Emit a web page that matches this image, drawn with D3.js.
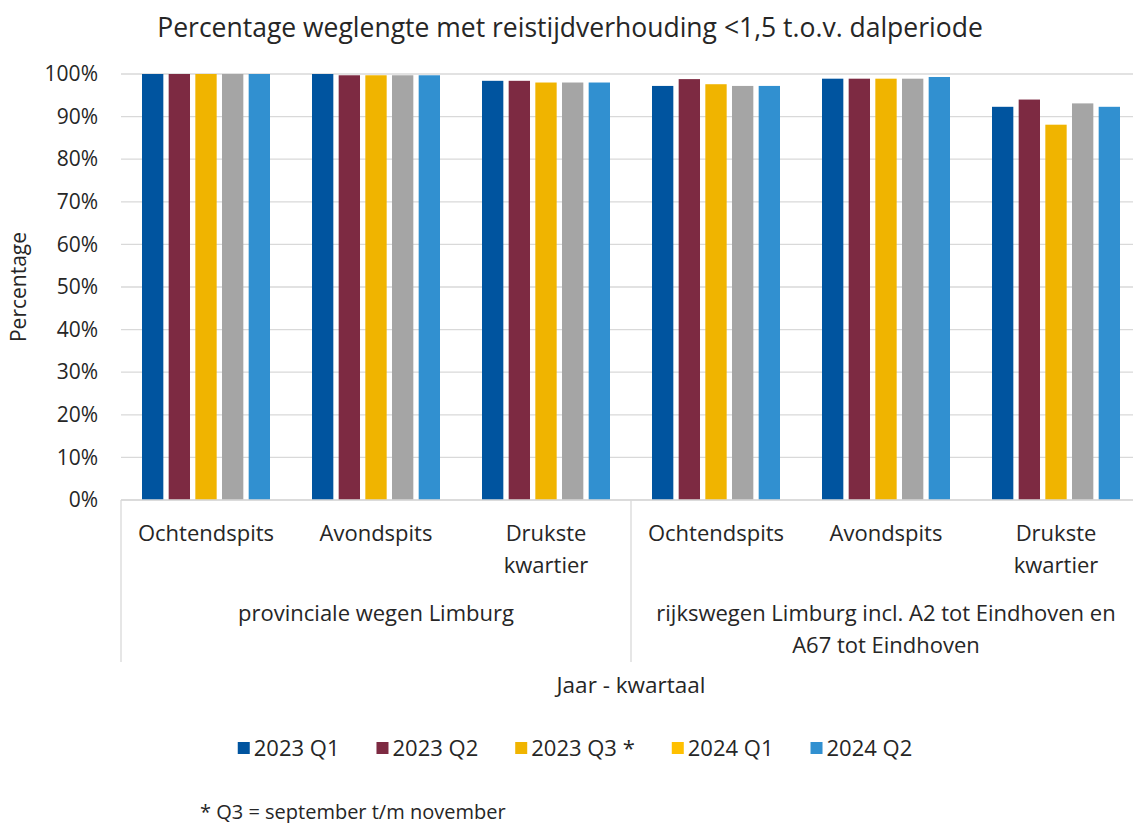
<!DOCTYPE html>
<html>
<head>
<meta charset="utf-8">
<script src="https://cdn.jsdelivr.net/npm/d3@7"></script>
<style>
  html, body { margin: 0; padding: 0; background: #fff; overflow: hidden; }
  svg { display: block; }
  text { font-family: "Open Sans", sans-serif; fill: #262626; }
</style>
</head>
<body>
<svg id="chart"></svg>
<script>
const width = 1133, height = 823

// data
const groups = ['provinciale wegen Limburg', 'rijkswegen Limburg incl. A2 tot Eindhoven en|A67 tot Eindhoven']
const categories = ['Ochtendspits', 'Avondspits', 'Drukste|kwartier']
const seriesNames = ['2023 Q1', '2023 Q2', '2023 Q3 *', '2024 Q1', '2024 Q2']
const barColors = ['#00549f', '#7d2a42', '#f0b400', '#a5a5a5', '#3190d0']
const legendColors = ['#00549f', '#7d2a42', '#f0b400', '#ffc000', '#3190d0']
// values per series, in order: prov (O, A, D), rijks (O, A, D)
const q1_2023 = [100, 100, 98.4, 97.2, 98.9, 92.3]
const q2_2023 = [100, 99.7, 98.4, 98.8, 98.9, 94.0]
const q3_2023 = [100, 99.7, 98.0, 97.6, 98.9, 88.1]
const q1_2024 = [100, 99.7, 98.0, 97.2, 98.9, 93.1]
const q2_2024 = [100, 99.7, 98.0, 97.2, 99.3, 92.3]
const seriesValues = [q1_2023, q2_2023, q3_2023, q1_2024, q2_2024]
const yTicks = [0, 10, 20, 30, 40, 50, 60, 70, 80, 90, 100]

const svg = d3.select('#chart').attr('width', width).attr('height', height)

const margin = { top: 74, left: 121, bottom: 323 }
const innerWidth = 1020, innerHeight = height - margin.top - margin.bottom

const slots = []
groups.forEach((g, gi) => categories.forEach((c, ci) => slots.push(gi + '-' + ci)))

// scales in page coordinates
const xScale = d3.scaleBand().domain(slots).range([margin.left, margin.left + innerWidth])
const xInner = d3.scaleBand().domain(seriesNames)
  .range([21, xScale.bandwidth() - 21]).paddingInner(0.2)
const yScale = d3.scaleLinear().domain([0, 100]).range([margin.top + innerHeight, margin.top])
const y0 = yScale(0)

// gridlines
svg.append('g').selectAll('line').data(yTicks).enter().append('line')
  .attr('x1', margin.left).attr('x2', margin.left + innerWidth)
  .attr('y1', d => yScale(d)).attr('y2', d => yScale(d))
  .attr('stroke', '#d9d9d9').attr('stroke-width', 1.3)

// y axis labels
const yAxis = svg.append('g').attr('transform', `translate(${margin.left},0)`)
  .call(d3.axisLeft(yScale).tickValues(yTicks).tickFormat(d => d + '%').tickSize(0).tickPadding(23))
yAxis.select('.domain').remove()
yAxis.selectAll('text').style('font-size', '21px').style('font-family', '"Open Sans", sans-serif').attr('fill', '#262626')

// bars
seriesNames.forEach((s, si) => {
  svg.append('g').selectAll('rect').data(seriesValues[si]).enter().append('rect')
    .attr('x', (d, i) => xScale(slots[i]) + xInner(s))
    .attr('y', d => yScale(d))
    .attr('width', xInner.bandwidth())
    .attr('height', d => y0 - yScale(d))
    .attr('fill', barColors[si])
})

// x axis line and group separators
svg.append('line').attr('x1', margin.left).attr('x2', margin.left + innerWidth)
  .attr('y1', y0).attr('y2', y0).attr('stroke', '#d9d9d9').attr('stroke-width', 1.3)
;[0, 3].forEach(i => {
  svg.append('line').attr('x1', xScale(slots[i])).attr('x2', xScale(slots[i]))
    .attr('y1', y0).attr('y2', y0 + 162).attr('stroke', '#d9d9d9').attr('stroke-width', 1.3)
})

// category labels
slots.forEach((sl, i) => {
  const cx = xScale(sl) + xScale.bandwidth() / 2
  categories[i % 3].split('|').forEach((l, li) => {
    svg.append('text').attr('text-anchor', 'middle').style('font-size', '22px')
      .attr('x', cx).attr('y', y0 + 41 + li * 32).text(l)
  })
})

// group labels
groups.forEach((gr, gi) => {
  const cx = xScale(slots[gi * 3]) + xScale.bandwidth() * 1.5
  gr.split('|').forEach((l, li) => {
    svg.append('text').attr('text-anchor', 'middle').style('font-size', '22px')
      .attr('x', cx).attr('y', y0 + 121 + li * 32).text(l)
  })
})

// titles
svg.append('text').attr('x', 570).attr('y', 37).attr('text-anchor', 'middle')
  .style('font-size', '26.5px').text('Percentage weglengte met reistijdverhouding <1,5 t.o.v. dalperiode')
svg.append('text').attr('transform', 'translate(26,287) rotate(-90)').attr('text-anchor', 'middle')
  .style('font-size', '21px').text('Percentage')
svg.append('text').attr('x', margin.left + innerWidth / 2).attr('y', 693).attr('text-anchor', 'middle')
  .style('font-size', '22.5px').text('Jaar - kwartaal')

// legend
const legendTexts = seriesNames.map(s => svg.append('text').attr('y', 756).style('font-size', '22px').text(s))
const widths = legendTexts.map(t => t.node().getComputedTextLength())
const total = d3.sum(widths) + seriesNames.length * 16 + (seriesNames.length - 1) * 37
let lx = 575 - total / 2
seriesNames.forEach((s, si) => {
  svg.append('rect').attr('x', lx).attr('y', 742).attr('width', 12).attr('height', 12).attr('fill', legendColors[si])
  legendTexts[si].attr('x', lx + 16)
  lx += 16 + widths[si] + 37
})

svg.append('text').attr('x', 200).attr('y', 819).style('font-size', '20px')
  .text('* Q3 = september t/m november')
</script>
</body>
</html>
